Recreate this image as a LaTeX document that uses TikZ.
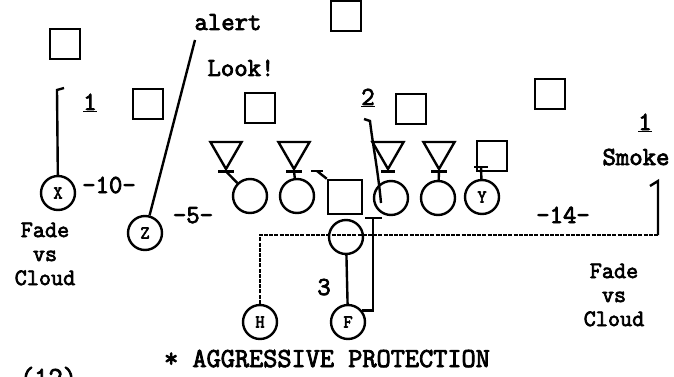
\documentclass[tikz,border=0pt]{standalone}
\usepackage{fontspec}
\newfontfamily\tw{Latin Modern Mono}[FakeBold=3]
\usetikzlibrary{shapes.geometric}
\begin{document}
\begin{tikzpicture}[x=1pt,y=-1pt,
  txt/.style={font=\fontsize{26}{23}\selectfont\tw\bfseries, inner sep=0pt, anchor=base},
  ml/.style={font=\fontsize{23.5}{24}\selectfont\tw\bfseries, inner sep=0pt, align=center, anchor=center},
  big/.style={font=\fontsize{27.5}{27.5}\selectfont\tw\bfseries, inner sep=0pt, anchor=base},
  dbox/.style={draw, line width=2.5pt, minimum size=30pt, inner sep=0pt},
  cbox/.style={dbox, minimum size=34pt},
  pl/.style={circle, draw, line width=2.4pt, minimum size=34pt, inner sep=0pt, font=\fontsize{18}{18}\selectfont\tw\bfseries},
  tri/.style={regular polygon, regular polygon sides=3, shape border rotate=180, draw, line width=2.4pt, minimum size=36pt, inner sep=0pt},
  ln/.style={line width=2.4pt},
  hroute/.style={line width=2.4pt, dash pattern=on 4pt off 1.2pt}]
\useasboundingbox (0,0) rectangle (674,377);
\clip (0,0) rectangle (674,377);
\fill[white] (0,0) rectangle (674,377);
% defenders
\node[dbox] (d1) at (65,44) {};
\node[dbox] (d2) at (148,104) {};
\node[dbox] (d3) at (346,16) {};
\node[dbox] (d4) at (260,108) {};
\node[dbox] (d5) at (411,109) {};
\node[dbox] (d6) at (550,94) {};
\node[dbox] (d7) at (492,156) {};
\node[tri] (t1) at (226,151) {};
\node[tri] (t2) at (294,151) {};
\node[tri] (t3) at (388,151) {};
\node[tri] (t4) at (439,151) {};
% offense
\node[pl] (o1) at (250,196) {};
\node[pl] (o2) at (297,196) {};
\node[cbox] (c) at (345,197) {};
\node[pl] (o3) at (391,198) {};
\node[pl] (o4) at (438,198) {};
\node[pl] (Y) at (482,197) {Y};
\node[pl] (qb) at (346,237) {};
\node[pl] (X) at (58,193) {X};
\node[pl] (Z) at (145,233) {Z};
\node[pl] (H) at (260,322) {H};
\node[pl] (F) at (348,322) {F};
% block bars
\foreach \t/\o in {t1/o1,t2/o2,t4/o4}{
  \draw[ln] ([xshift=-8pt]\t.corner 1) -- ([xshift=8pt]\t.corner 1);
  \draw[ln] (\o) -- (\t.corner 1);
}
\draw[ln] ([xshift=-7pt]t3.corner 1) -- ([xshift=7pt]t3.corner 1);
\coordinate (cb) at (317,171);
\draw[ln] (311,171) -- (323,171);
\draw[ln] (c.north west) -- (cb);
\coordinate (yb) at (481,167);
\draw[ln] (474,167) -- (488,167);
\draw[ln] (Y) -- (yb);
% guard route to 2
\coordinate (g3s) at (381,203);
\coordinate (g3t) at (370,121);
\draw[ln] (g3s) .. controls (378,170) and (372,140) .. (g3t) -- (364,119);
% X route
\coordinate (xt) at (57,90);
\draw[ln] (X) -- (xt) -- (64,88);
% Z route
\coordinate (zt) at (195,40);
\draw[ln] (Z) -- (zt);
% H route
\coordinate (hc) at (260,235);
\coordinate (hr) at (658,235);
\coordinate (ht) at (658,181);
\draw[hroute] (H) -- (hc) -- (hr);
\draw[ln] (hr) -- (ht) -- (650,186);
% F routes
\draw[ln] (qb) -- (F);
\coordinate (fb) at (373,218);
\draw[ln] (F.40) -| (fb);
\draw[ln] (365,218) -- (382,218);
% labels
\node[txt] at (228,30) {alert};
\node[txt] at (241,76) {Look!};
\node[txt] at (90,110) {\underline{1}};
\node[txt] at (368,105) {\underline{2}};
\node[txt] at (645,130) {\underline{1}};
\node[txt] at (636,165) {Smoke};
\node[txt] at (109,193) {-10-};
\node[txt] at (193,223) {-5-};
\node[txt] at (563,223) {-14-};
\node[txt] at (324,295) {3};
\node[ml] at (45,254) {Fade\\vs\\Cloud};
\node[ml] at (614,295) {Fade\\vs\\Cloud};
\node[big] at (327,367) {* AGGRESSIVE PROTECTION};
\node[big, anchor=base west] at (20,386) {(12)};
\end{tikzpicture}
\end{document}
